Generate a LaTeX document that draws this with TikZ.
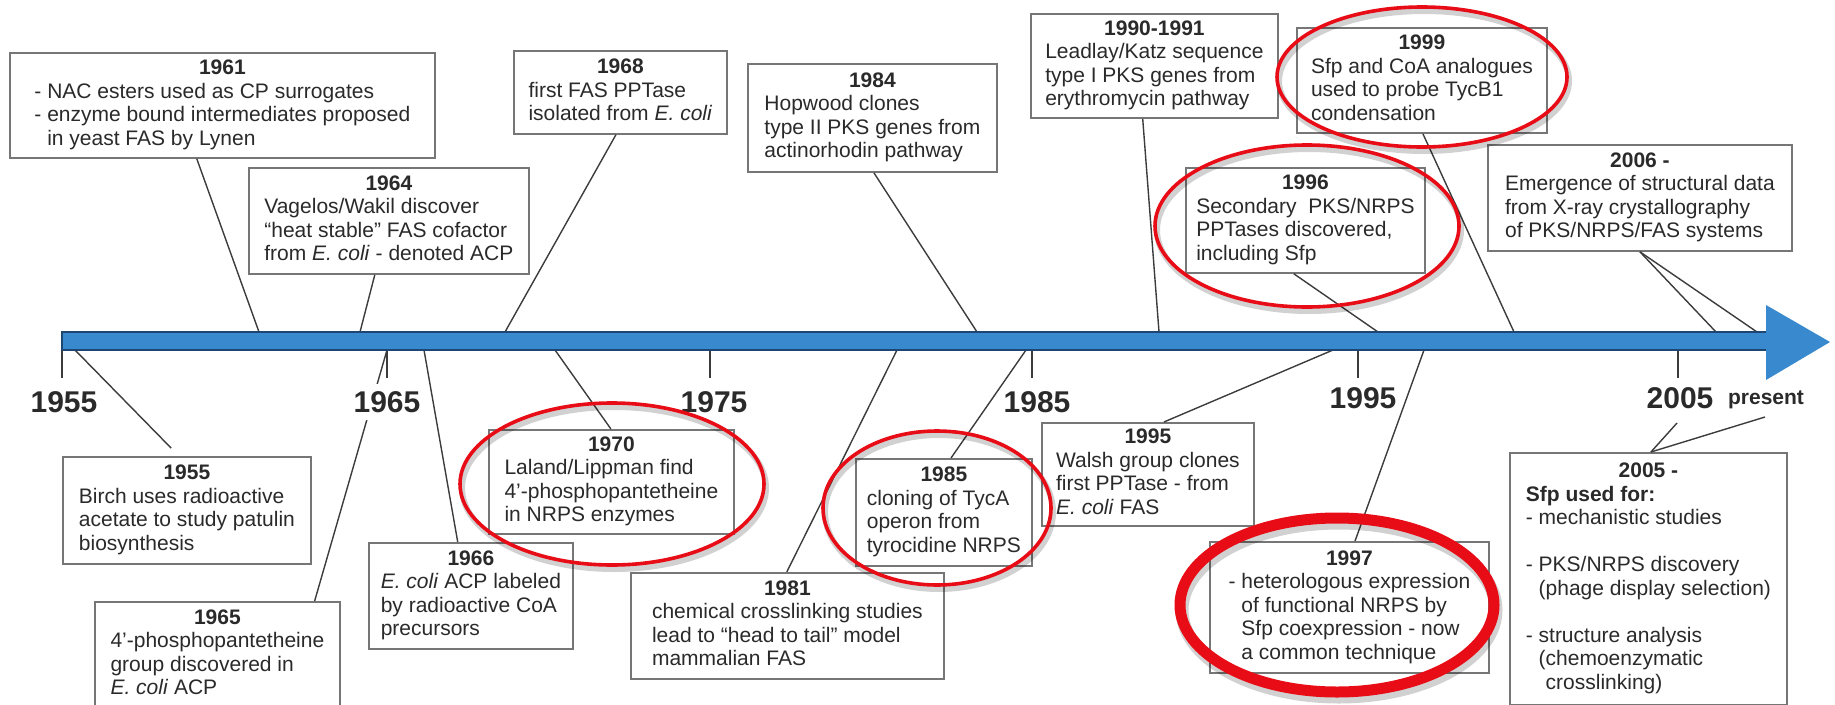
\documentclass[tikz,border=0pt]{standalone}
\usepackage{fontspec}
\setmainfont{Liberation Sans}
\usetikzlibrary{calc}
\definecolor{barblue}{RGB}{56,137,206}
\definecolor{barline}{RGB}{30,70,115}
\definecolor{boxgray}{RGB}{118,118,118}
\definecolor{txt}{RGB}{42,42,42}
\definecolor{circred}{RGB}{232,12,22}
\definecolor{connc}{RGB}{60,60,60}
\begin{document}
\begin{tikzpicture}[x=1pt,y=-1pt,
  evbox/.style={draw=boxgray, line width=1.8pt, fill=white, anchor=north west, inner sep=0pt, text=txt, font=\fontsize{21}{23.5}\selectfont},
  conn/.style={draw=connc, line width=1.4pt},
  tickline/.style={draw=connc, line width=1.6pt},
  axislbl/.style={font=\fontsize{30}{30}\selectfont\bfseries, text=txt, fill=white, inner sep=1pt},
  presentlbl/.style={font=\fontsize{21}{21}\selectfont\bfseries, text=txt, inner sep=1pt},
  hilite/.style={draw=circred, line width=3.6pt},
  hiliteshadow/.style={draw=black, opacity=0.18, line width=6pt},
  hilitethick/.style={draw=circred, line width=11pt}]
\useasboundingbox (0,0) rectangle (1835,704);

% ---------- boxes above the timeline ----------
\node[evbox,minimum width=425pt,minimum height=105pt] (b1961) at (9,52) {\begin{tabular}{@{}l@{}}\multicolumn{1}{@{}c@{}}{\bfseries 1961}\\- NAC esters used as CP surrogates\\- enzyme bound intermediates proposed\\\phantom{- }in yeast FAS by Lynen\end{tabular}};
\node[evbox,minimum width=280pt,minimum height=106pt] (b1964) at (248,167) {\begin{tabular}{@{}l@{}}\multicolumn{1}{@{}c@{}}{\bfseries 1964}\\Vagelos/Wakil discover\\``heat stable'' FAS cofactor\\from \textit{E. coli} - denoted ACP\end{tabular}};
\node[evbox,minimum width=213pt,minimum height=83pt] (b1968) at (513,50) {\begin{tabular}{@{}l@{}}\multicolumn{1}{@{}c@{}}{\bfseries 1968}\\first FAS PPTase\\isolated from \textit{E. coli}\end{tabular}};
\node[evbox,minimum width=249pt,minimum height=108pt] (b1984) at (747,63) {\begin{tabular}{@{}l@{}}\multicolumn{1}{@{}c@{}}{\bfseries 1984}\\Hopwood clones\\type II PKS genes from\\actinorhodin pathway\end{tabular}};
\node[evbox,minimum width=247pt,minimum height=104pt] (b1990) at (1030,13) {\begin{tabular}{@{}l@{}}\multicolumn{1}{@{}c@{}}{\bfseries 1990-1991}\\Leadlay/Katz sequence\\type I PKS genes from\\erythromycin pathway\end{tabular}};
\node[evbox,minimum width=250pt,minimum height=105pt] (b1999) at (1296,27) {\begin{tabular}{@{}l@{}}\multicolumn{1}{@{}c@{}}{\bfseries 1999}\\Sfp and CoA analogues\\used to probe TycB1\\condensation\end{tabular}};
\node[evbox,minimum width=239pt,minimum height=105pt] (b1996) at (1185,167) {\begin{tabular}{@{}l@{}}\multicolumn{1}{@{}c@{}}{\bfseries 1996}\\Secondary~ PKS/NRPS\\PPTases discovered,\\including Sfp\end{tabular}};
\node[evbox,minimum width=304pt,minimum height=106pt] (b2006) at (1487,144) {\begin{tabular}{@{}l@{}}\multicolumn{1}{@{}c@{}}{\bfseries 2006 -}\\Emergence of structural data\\from X-ray crystallography\\of PKS/NRPS/FAS systems\end{tabular}};

% ---------- boxes below the timeline ----------
\node[evbox,minimum width=248pt,minimum height=107pt] (b1955) at (62,456) {\begin{tabular}{@{}l@{}}\multicolumn{1}{@{}c@{}}{\bfseries 1955}\\Birch uses radioactive\\acetate to study patulin\\biosynthesis\end{tabular}};
\node[evbox,minimum width=245pt,minimum height=106pt] (b1965) at (94,601) {\begin{tabular}{@{}l@{}}\multicolumn{1}{@{}c@{}}{\bfseries 1965}\\4'-phosphopantetheine\\group discovered in\\\textit{E. coli} ACP\end{tabular}};
\node[evbox,minimum width=204pt,minimum height=106pt] (b1966) at (368,542) {\begin{tabular}{@{}l@{}}\multicolumn{1}{@{}c@{}}{\bfseries 1966}\\\textit{E. coli} ACP labeled\\by radioactive CoA\\precursors\end{tabular}};
\node[evbox,minimum width=245pt,minimum height=104pt] (b1970) at (488,429) {\begin{tabular}{@{}l@{}}\multicolumn{1}{@{}c@{}}{\bfseries 1970}\\Laland/Lippman find\\4'-phosphopantetheine\\in NRPS enzymes\end{tabular}};
\node[evbox,minimum width=313pt,minimum height=106pt] (b1981) at (630,572) {\begin{tabular}{@{}l@{}}\multicolumn{1}{@{}c@{}}{\bfseries 1981}\\chemical crosslinking studies\\lead to ``head to tail'' model\\mammalian FAS\end{tabular}};
\node[evbox,minimum width=176pt,minimum height=107pt] (b1985) at (855,458) {\begin{tabular}{@{}l@{}}\multicolumn{1}{@{}c@{}}{\bfseries 1985}\\cloning of TycA\\operon from\\tyrocidine NRPS\end{tabular}};
\node[evbox,minimum width=212pt,minimum height=103pt] (b1995) at (1041,422) {\begin{tabular}{@{}l@{}}\multicolumn{1}{@{}c@{}}{\bfseries 1995}\\Walsh group clones\\first PPTase - from\\\textit{E. coli} FAS\end{tabular}};
\node[evbox,minimum width=279pt,minimum height=131pt] (b1997) at (1209,541) {\begin{tabular}{@{}l@{}}\multicolumn{1}{@{}c@{}}{\bfseries 1997}\\- heterologous expression\\\phantom{- }of functional NRPS by\\\phantom{- }Sfp coexpression - now\\\phantom{- }a common technique\end{tabular}};
\node[evbox,minimum width=277pt,minimum height=252pt] (b2005) at (1509,452) {\begin{tabular}{@{}l@{}}\multicolumn{1}{@{}c@{}}{\bfseries 2005 -}\\\textbf{Sfp used for:}\\- mechanistic studies\\ \\- PKS/NRPS discovery\\\phantom{- }(phage display selection)\\ \\- structure analysis\\\phantom{- }(chemoenzymatic\\\phantom{- (}crosslinking)\end{tabular}};

% ---------- attachment points on the timeline ----------
\coordinate (t1961) at (259,332);
\coordinate (t1964) at (360,332);
\coordinate (t1968) at (505,332);
\coordinate (t1984) at (977,332);
\coordinate (t1990) at (1159,332);
\coordinate (t1996) at (1378,332);
\coordinate (t1999) at (1514,332);
\coordinate (t2006a) at (1716,332);
\coordinate (t2006b) at (1757,332);
\coordinate (u1955) at (75,350);
\coordinate (u1965) at (387,350);
\coordinate (u1966) at (424,350);
\coordinate (u1970) at (555,350);
\coordinate (u1981) at (897,350);
\coordinate (u1985) at (1026,350);
\coordinate (u1995) at (1333,350);
\coordinate (u1997) at (1424,350);
\coordinate (k1955) at (62,350);
\coordinate (k1965) at (387,350);
\coordinate (k1975) at (710,350);
\coordinate (k1985) at (1032,350);
\coordinate (k1995) at (1358,350);
\coordinate (k2005) at (1678,350);
\coordinate (p2005) at (1677,423);
\coordinate (ppresent) at (1765,417);

% ---------- connectors ----------
\draw[conn] (t1961) -- ($(b1961.south west)!0.44!(b1961.south east)$);
\draw[conn] (t1964) -- ($(b1964.south west)!0.45!(b1964.south east)$);
\draw[conn] (t1968) -- ($(b1968.south west)!0.479!(b1968.south east)$);
\draw[conn] (t1984) -- ($(b1984.south west)!0.506!(b1984.south east)$);
\draw[conn] (t1990) -- ($(b1990.south west)!0.453!(b1990.south east)$);
\draw[conn] (t1996) -- ($(b1996.south west)!0.452!(b1996.south east)$);
\draw[conn] (t1999) -- ($(b1999.south west)!0.504!(b1999.south east)$);
\draw[conn] (t2006a) -- ($(b2006.south west)!0.5!(b2006.south east)$);
\draw[conn] (t2006b) -- ($(b2006.south west)!0.5!(b2006.south east)$);
\draw[conn, shorten >=11pt] (u1955) -- ($(b1955.north west)!0.468!(b1955.north east)$);
\draw[conn] (u1965) -- ($(b1965.north west)!0.894!(b1965.north east)$);
\draw[conn] (u1966) -- ($(b1966.north west)!0.436!(b1966.north east)$);
\draw[conn] (u1970) -- ($(b1970.north west)!0.498!(b1970.north east)$);
\draw[conn] (u1981) -- ($(b1981.north west)!0.498!(b1981.north east)$);
\draw[conn] (u1985) -- ($(b1985.north west)!0.54!(b1985.north east)$);
\draw[conn] (u1995) -- ($(b1995.north west)!0.575!(b1995.north east)$);
\draw[conn] (u1997) -- ($(b1997.north west)!0.52!(b1997.north east)$);
\draw[conn] (p2005) -- ($(b2005.north west)!0.509!(b2005.north east)$);
\draw[conn] (ppresent) -- ($(b2005.north west)!0.509!(b2005.north east)$);

% ---------- ticks ----------
\foreach \k in {k1955,k1965,k1975,k1985,k1995,k2005}{\draw[tickline] (\k) -- ++(0,28);}

% ---------- timeline arrow ----------
\fill[barblue] (62,332) -- (1766,332) -- (1766,305) -- (1830,342) -- (1766,380) -- (1766,350) -- (62,350) -- cycle;
\draw[barline, line width=1.2pt] (1766,332) -- (62,332) -- (62,350) -- (1766,350);

% ---------- axis labels ----------
\node[axislbl, inner ysep=7pt] (l1965) at (387,402) {1965};
\node[axislbl] (l1955) at (64,402) {1955};
\node[axislbl] (l1975) at (714,402) {1975};
\node[axislbl] (l1985) at (1037,402) {1985};
\node[axislbl] (l1995) at (1363,398) {1995};
\node[axislbl] (l2005) at (1680,398) {2005};
\node[presentlbl] (lpresent) at (1766,400) {present};

% ---------- red highlight ellipses (with a soft shadow) ----------
\draw[hiliteshadow] (614,488) ellipse [x radius=152pt, y radius=81pt];
\draw[hiliteshadow] (939,512) ellipse [x radius=114pt, y radius=77pt];
\draw[hiliteshadow] (1309,230) ellipse [x radius=152pt, y radius=81pt];
\draw[hiliteshadow] (1424,81) ellipse [x radius=145pt, y radius=70pt];
\draw[hiliteshadow, line width=13pt] (1339,610) ellipse [x radius=157pt, y radius=87pt];
\draw[hilite] (612,484) ellipse [x radius=152pt, y radius=81pt];
\draw[hilite] (937,508) ellipse [x radius=114pt, y radius=77pt];
\draw[hilite] (1307,226) ellipse [x radius=152pt, y radius=81pt];
\draw[hilite] (1422,77) ellipse [x radius=145pt, y radius=70pt];
\draw[hilitethick] (1337,605) ellipse [x radius=157pt, y radius=87pt];
\end{tikzpicture}
\end{document}
